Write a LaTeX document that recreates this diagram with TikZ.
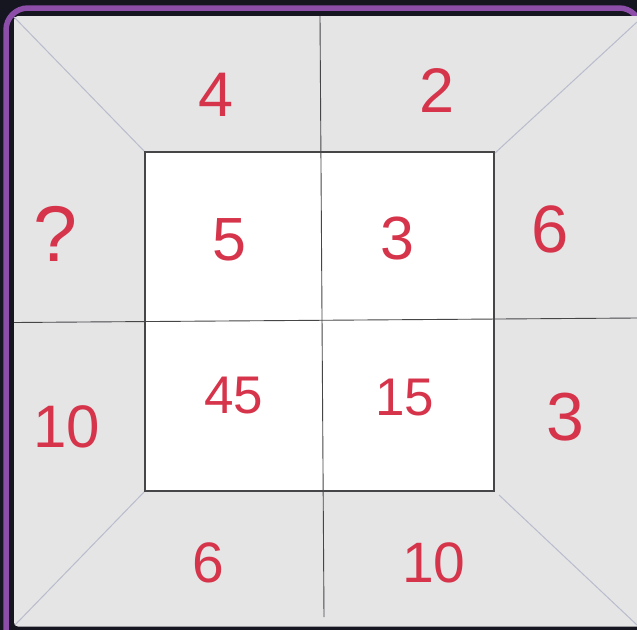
\documentclass[tikz,border=0pt]{standalone}
\usepackage{fontspec}
\setmainfont{Liberation Sans}
\definecolor{bgdark}{RGB}{22,22,32}
\definecolor{frame}{RGB}{140,78,168}
\definecolor{panel}{RGB}{229,229,230}
\definecolor{numred}{RGB}{214,52,74}
\definecolor{gridline}{RGB}{70,70,72}
\definecolor{diagline}{RGB}{184,188,204}
\tikzset{
  num/.style={text=numred, inner sep=0pt, anchor=center},
  crossline/.style={draw=gridline, line width=0.9pt},
  diag/.style={draw=diagline, line width=1pt},
}
\newcommand{\fs}[1]{\fontsize{#1}{#1}\selectfont}
\begin{document}
\begin{tikzpicture}[x=1pt,y=-1pt]
\useasboundingbox (0,0) rectangle (637,629);
\clip (0,0) rectangle (637,629);
\fill[bgdark] (-5,-5) rectangle (645,640);
\draw[frame, line width=5.5pt, rounded corners=22pt] (6,8) rectangle (641,680);
\fill[panel, rounded corners=4pt] (14,16) rectangle (660,626.5);
% named corners
\coordinate (oTL) at (14,17);
\coordinate (oTR) at (637,22);
\coordinate (oBL) at (15,625);
\coordinate (oBR) at (637,625);
\coordinate (iTL) at (145,152);
\coordinate (iTR) at (494,152);
\coordinate (iBL) at (145,491);
\coordinate (iBR) at (494,491);
\coordinate (vT) at (320,16);
\coordinate (vB) at (324,617);
\coordinate (hL) at (14,322.5);
\coordinate (hR) at (637,318);
% diagonals
\draw[diag] (oTL) -- (iTL);
\draw[diag] (oTR) -- ([xshift=1pt,yshift=-1pt]iTR);
\draw[diag] (oBL) -- (iBL);
\draw[diag] (oBR) -- ([xshift=5pt,yshift=-4pt]iBR);
% inner square
\fill[white] (iTL) rectangle (iBR);
\draw[gridline, line width=1.5pt] (iTL) rectangle (iBR);
% cross
\draw[crossline] (vT) -- (vB);
\draw[crossline] (hL) -- (hR);
% numbers
\node[num] (n4)  at (216,95)  {\fs{63}4};
\node[num] (n2)  at (437,91)  {\fs{63}2};
\node[num] (nq)  at (55,234)  {\fs{79}?};
\node[num] (n5)  at (229.5,240) {\fs{61}5};
\node[num] (n3a) at (397,238) {\fs{61}3};
\node[num] (n6a) at (550,229) {\fs{67}6};
\node[num] (n10a) at (67,427) {\fs{60}10};
\node[num] (n45) at (234,396) {\fs{53}45};
\node[num] (n15) at (405,398) {\fs{53}15};
\node[num] (n3b) at (565,417) {\fs{68}3};
\node[num] (n6b) at (208,563) {\fs{57}6};
\node[num] (n10b) at (434,563) {\fs{57}10};
\end{tikzpicture}
\end{document}
